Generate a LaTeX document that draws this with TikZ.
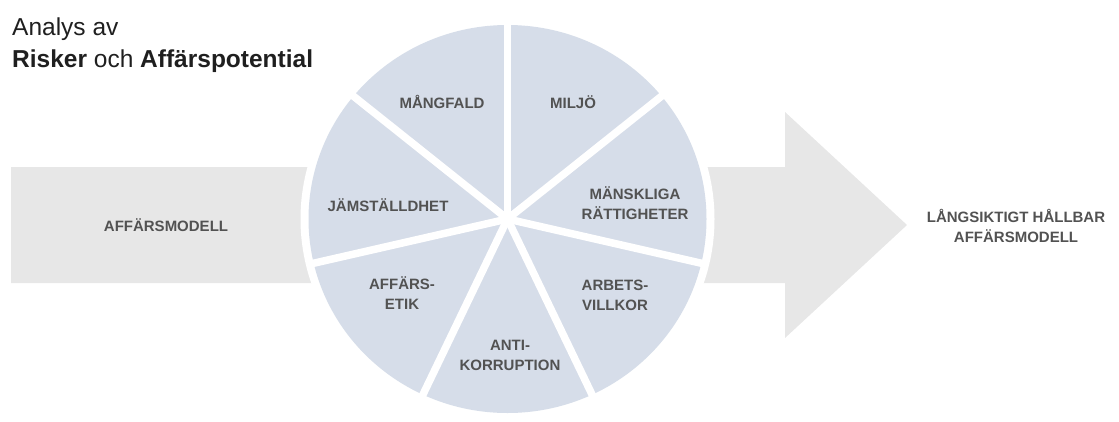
\documentclass[tikz,border=0pt]{standalone}
\usepackage{fontspec}
\setmainfont{Liberation Sans}
\definecolor{pieblue}{HTML}{D6DDE9}
\definecolor{bargray}{HTML}{E7E7E7}
\definecolor{labelgray}{HTML}{525252}
\tikzset{
  seglabel/.style={text=labelgray, font=\bfseries\fontsize{15}{20}\selectfont, align=center, inner sep=0pt},
  titletext/.style={text=black!88, font=\fontsize{24.5}{30}\selectfont, inner sep=0pt, anchor=base west}
}
\begin{document}
\begin{tikzpicture}[x=1pt,y=-1pt]
	\useasboundingbox (0,0) rectangle (1119,421);
	% title
	\node[titletext] (analys) at (12,35) {Analys av};
	\node[titletext] (risker) at (12,67) {\textbf{Risker} och \textbf{Affärspotential}};
	% big arrow
	\fill[bargray] (11,167) -- (785,167) -- (785,112) -- (907,225) -- (785,338) -- (785,283) -- (11,283) -- cycle;
	% wheel & spokes
	\coordinate (hub) at (507.5,219);
	\fill[white] (hub) ellipse [x radius=207, y radius=201];
	\fill[pieblue] (hub) ellipse [x radius=199, y radius=194];
	\foreach \k in {0,...,6}
		\draw[white, line width=7.5pt] (hub) -- ++({-90-\k*360/7}:203);
	% wheel labels
	\node[seglabel] (mangfald) at (442,102) {MÅNGFALD};
	\node[seglabel] (miljo) at (573,102) {MILJÖ};
	\node[seglabel] (rattigheter) at (635,203) {MÄNSKLIGA\\RÄTTIGHETER};
	\node[seglabel] (villkor) at (615,295) {ARBETS-\\VILLKOR};
	\node[seglabel] (korruption) at (510,355) {ANTI-\\KORRUPTION};
	\node[seglabel] (etik) at (402,293) {AFFÄRS-\\ETIK};
	\node[seglabel] (jamstalldhet) at (388,205) {JÄMSTÄLLDHET};
	% arrow labels
	\node[seglabel] (modell) at (166,225) {AFFÄRSMODELL};
	\node[seglabel] (hallbar) at (1016,226) {LÅNGSIKTIGT HÅLLBAR\\AFFÄRSMODELL};
\end{tikzpicture}
\end{document}
